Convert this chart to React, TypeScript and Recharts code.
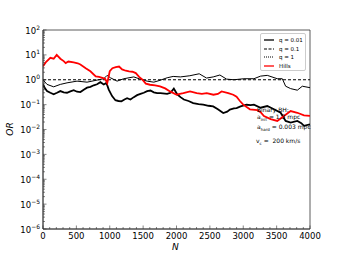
import React from 'react';
import { LineChart, Line, XAxis, YAxis, ReferenceArea } from 'recharts';

const xTicks: number[] = Array.from({ length: 41 }, (_, i) => i * 100);
const yTicks: number[] = (() => {
  const t: number[] = [];
  for (let k = -6; k < 2; k++) for (let m = 1; m < 10; m++) t.push(m * Math.pow(10, k));
  t.push(100);
  return t;
})();

// q = 0.01 (thick black)
const q001: [number, number][] = [
  [0, 0.65], [30, 0.45], [60, 0.35], [110, 0.3], [160, 0.26], [210, 0.3], [260, 0.35], [310, 0.31],
  [360, 0.3], [410, 0.34], [460, 0.38], [510, 0.33], [560, 0.32], [610, 0.4], [660, 0.48], [710, 0.52],
  [760, 0.6], [810, 0.66], [860, 0.8], [910, 0.65], [950, 0.75], [985, 0.4], [1035, 0.22], [1085, 0.15],
  [1130, 0.14], [1175, 0.135], [1220, 0.16], [1260, 0.18], [1310, 0.16], [1360, 0.2], [1410, 0.24],
  [1460, 0.27], [1510, 0.3], [1560, 0.35], [1610, 0.37], [1660, 0.31], [1710, 0.29], [1760, 0.29],
  [1860, 0.27], [1910, 0.3], [1960, 0.44], [2010, 0.26], [2060, 0.2], [2110, 0.16], [2180, 0.14],
  [2250, 0.116], [2330, 0.105], [2400, 0.1], [2480, 0.09], [2550, 0.085], [2620, 0.065], [2700, 0.046],
  [2760, 0.052], [2800, 0.063], [2860, 0.07], [2900, 0.073], [2960, 0.085], [3050, 0.099], [3110, 0.095],
  [3160, 0.1], [3260, 0.075], [3360, 0.088], [3460, 0.065], [3560, 0.047], [3635, 0.022], [3710, 0.019],
  [3810, 0.022], [3870, 0.018], [3910, 0.014], [4000, 0.016],
];
// q = 0.1 (dashed)
const q01: [number, number][] = [[0, 1], [4000, 1]];
// q = 1 (thin)
const q1: [number, number][] = [
  [0, 1.0], [60, 0.65], [160, 0.52], [260, 0.65], [360, 0.75], [510, 0.88], [660, 0.8], [810, 0.97],
  [910, 1.1], [960, 1.5], [1010, 1.2], [1110, 0.88], [1210, 1.1], [1360, 1.3], [1460, 1.05], [1560, 0.88],
  [1660, 0.8], [1753, 0.95], [1860, 1.2], [1950, 1.36], [2060, 1.3], [2200, 1.45], [2340, 1.74],
  [2450, 1.17], [2550, 1.3], [2650, 1.55], [2750, 1.06], [2860, 1.0], [3010, 1.1], [3160, 1.1],
  [3260, 1.4], [3360, 1.5], [3510, 1.1], [3585, 1.1], [3635, 0.55], [3710, 0.44], [3810, 0.38],
  [3885, 0.55], [4000, 0.48],
];
// Hills (red)
const hills: [number, number][] = [
  [0, 3.5], [40, 5], [110, 7.6], [160, 7], [205, 10], [260, 7], [310, 5.6], [340, 4.7], [380, 5.4],
  [460, 5.0], [520, 4.6], [560, 4.1], [640, 2.9], [710, 2.2], [790, 1.36], [840, 1.3], [890, 1.2],
  [930, 1.1], [963, 0.74], [1000, 2.2], [1040, 2.9], [1090, 3.2], [1140, 3.4], [1185, 2.6], [1240, 2.3],
  [1290, 2.15], [1340, 2.1], [1390, 1.85], [1440, 1.3], [1490, 1.0], [1540, 0.7], [1603, 0.63],
  [1680, 0.6], [1753, 0.54], [1830, 0.45], [1903, 0.34], [2003, 0.25], [2050, 0.27], [2103, 0.29],
  [2203, 0.34], [2303, 0.29], [2380, 0.27], [2453, 0.29], [2553, 0.25], [2620, 0.27], [2676, 0.34],
  [2775, 0.29], [2850, 0.25], [2900, 0.21], [2950, 0.14], [3000, 0.1], [3100, 0.065], [3210, 0.06],
  [3260, 0.05], [3310, 0.035], [3410, 0.026], [3510, 0.022], [3610, 0.035], [3710, 0.055],
  [3810, 0.047], [3910, 0.037], [4000, 0.035],
];

const legendItems = [
  { label: 'q = 0.01', color: '#000', dash: undefined as string | undefined, w: 1.3 },
  { label: 'q = 0.1', color: '#000', dash: '3 1.5', w: 1.1 },
  { label: 'q = 1', color: '#000', dash: '1 1', w: 1.1 },
  { label: 'Hills', color: '#ff0000', dash: undefined as string | undefined, w: 1.3 },
];

const toRows = (arr: [number, number][]) => arr.map(([n, v]) => ({ n, v }));
const FONT = 'DejaVu Sans, sans-serif';
const AX = '#333';

const isMajorY = (v: number) => {
  const l = Math.log10(v);
  return Math.abs(l - Math.round(l)) < 1e-6;
};

const YTick = (props: any) => {
  const { x, y, payload } = props;
  const v = payload.value as number;
  const major = isMajorY(v);
  const e = Math.round(Math.log10(v));
  return (
    <g>
      <line x1={x} x2={x + (major ? 3.5 : 2)} y1={y} y2={y} stroke={AX} strokeWidth={0.6} />
      {major && (
        <text x={x - 3} y={y + 3.5} textAnchor="end" fontFamily={FONT} fontSize={8.5} fill="#000">
          10
          <tspan dy={-4} fontSize={6}>{e < 0 ? `\u2212${-e}` : `${e}`}</tspan>
        </text>
      )}
    </g>
  );
};

const XTick = (props: any) => {
  const { x, y, payload } = props;
  const v = payload.value as number;
  const major = v % 500 === 0;
  return (
    <g>
      <line x1={x} x2={x} y1={y} y2={y - (major ? 3.5 : 2)} stroke={AX} strokeWidth={0.6} />
      {major && (
        <text x={x} y={y + 10} textAnchor="middle" fontFamily={FONT} fontSize={8.5} fill="#000">
          {v}
        </text>
      )}
    </g>
  );
};

const LegendBox = () => (
  <div
    style={{
      position: 'absolute',
      left: 260,
      top: 33,
      width: 46,
      height: 38,
      border: '1px solid #ccc',
      borderRadius: 2,
      background: '#fff',
      boxSizing: 'border-box',
      fontFamily: FONT,
      fontSize: 5.5,
      padding: '2px 0 0 2px',
    }}
  >
    {legendItems.map((it) => (
      <div key={it.label} style={{ display: 'flex', alignItems: 'center', height: 8.5 }}>
        <svg width={12} height={6} style={{ marginRight: 4 }}>
          <line x1={1} x2={11} y1={3} y2={3} stroke={it.color} strokeWidth={it.w} strokeDasharray={it.dash} />
        </svg>
        <span style={{ color: '#000', lineHeight: '8px' }}>{it.label}</span>
      </div>
    ))}
  </div>
);

export default function App() {
  return (
    <div style={{ position: 'absolute', left: 0, top: 0, width: 344, height: 258, background: '#fff' }}>
      <LineChart width={344} height={258} margin={{ top: 30, right: 34, bottom: 0, left: 0 }}>
        <XAxis
          dataKey="n"
          type="number"
          domain={[0, 4000]}
          ticks={xTicks}
          interval={0}
          tick={<XTick />}
          tickSize={0}
          tickMargin={0}
          height={29}
          axisLine={{ stroke: AX, strokeWidth: 0.8 }}
          allowDataOverflow
        />
        <YAxis
          dataKey="v"
          type="number"
          scale="log"
          domain={[1e-6, 100]}
          ticks={yTicks}
          interval={0}
          tick={<YTick />}
          tickSize={0}
          tickMargin={0}
          width={43}
          axisLine={{ stroke: AX, strokeWidth: 0.8 }}
          allowDataOverflow
        />
        <ReferenceArea x1={0} x2={4000} y1={1e-6} y2={100} fill="none" stroke={AX} strokeWidth={0.8} ifOverflow="visible" />
        <Line data={toRows(q01)} dataKey="v" stroke="#000" strokeWidth={1} strokeDasharray="3 2" dot={false} isAnimationActive={false} />
        <Line data={toRows(q1)} dataKey="v" stroke="#000" strokeWidth={1} dot={false} isAnimationActive={false} />
        <Line data={toRows(q001)} dataKey="v" stroke="#000" strokeWidth={1.8} dot={false} isAnimationActive={false} />
        <Line data={toRows(hills)} dataKey="v" stroke="#ff0000" strokeWidth={1.8} dot={false} isAnimationActive={false} />
      </LineChart>
      <LegendBox />
      <div style={{ position: 'absolute', left: 257, top: 106, fontFamily: FONT, fontSize: 6, lineHeight: '7px', color: '#000' }}>
        <div>Binary BH:</div>
        <div>a<sub style={{ fontSize: 4 }}>init</sub> = 1.3 mpc</div>
        <div>a<sub style={{ fontSize: 4 }}>hard</sub> = 0.003 mpc</div>
      </div>
      <div style={{ position: 'absolute', left: 256, top: 137, fontFamily: FONT, fontSize: 6, color: '#000', whiteSpace: 'nowrap' }}>
        v<sub style={{ fontSize: 4 }}>c</sub> = &nbsp;200 km/s
      </div>
      <div
        style={{
          position: 'absolute',
          left: 3,
          top: 124,
          fontFamily: FONT,
          fontSize: 9,
          fontStyle: 'italic',
          transform: 'rotate(-90deg)',
          color: '#000',
        }}
      >
        OR
      </div>
      <div style={{ position: 'absolute', left: 172, top: 242, fontFamily: FONT, fontSize: 9, fontStyle: 'italic', color: '#000' }}>
        N
      </div>
    </div>
  );
}
